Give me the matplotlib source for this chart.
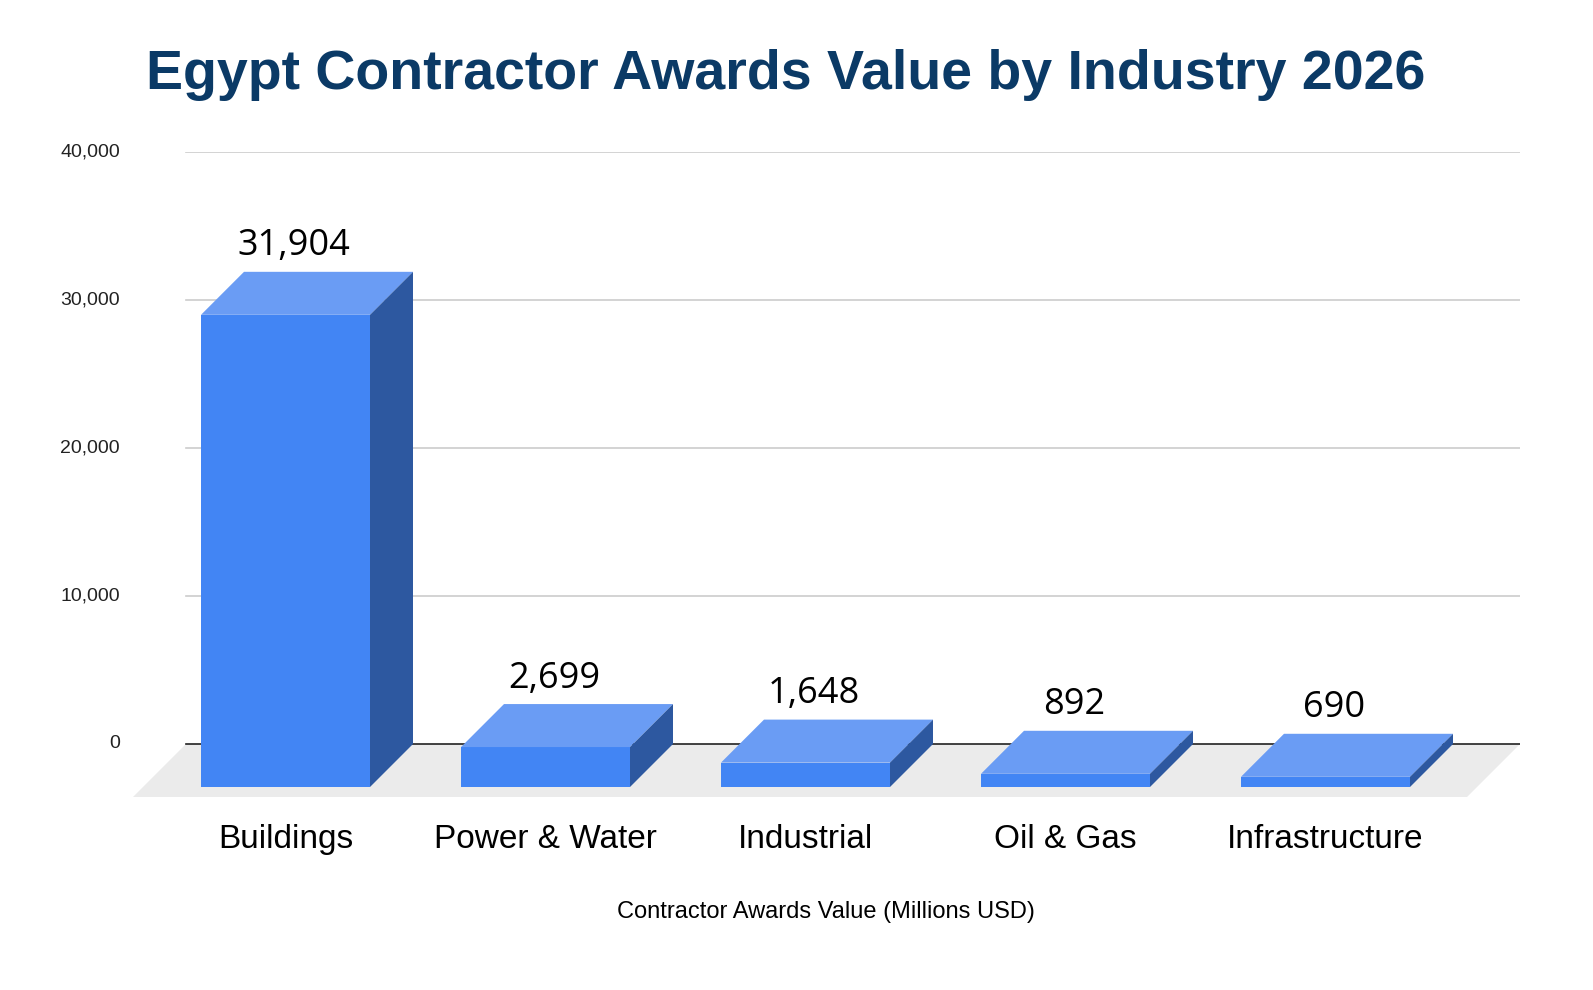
import matplotlib
matplotlib.use("Agg")
import matplotlib.pyplot as plt
from matplotlib.patches import Polygon, Rectangle

plt.rcParams['font.family'] = ['Liberation Sans', 'DejaVu Sans']

categories = ["Buildings", "Power & Water", "Industrial", "Oil & Gas", "Infrastructure"]
values = [31904, 2699, 1648, 892, 690]
yticks = [0, 10000, 20000, 30000, 40000]

W, H = 1593, 990
fig = plt.figure(figsize=(W/100, H/100), dpi=100)
ax = fig.add_axes([133/W, 1-797/H, (1520-133)/W, (797-152)/H])
px = 260.0
x0 = (133-201)/px
x1 = (1520-201)/px
ymin = -53/0.0148
ax.set_xlim(x0, x1)
ax.set_ylim(ymin, 40000)
ax.axis("off")

bw = 169/px
dx = 43/px
dy = 43/0.0148
gl = (186-201)/px
fdx = 53/px
ax.add_patch(Polygon([(gl, 0), (x1, 0), (x1-fdx, ymin), (gl-fdx, ymin)],
                     closed=True, color="#ebebeb", lw=0, zorder=1))
for t in yticks[1:]:
    ax.plot([gl, x1], [t, t], color="#cccccc", lw=1.2, zorder=1)
    ax.text(120/px - 201/px, t, f"{t:,}", ha="right", va="center", fontsize=14,
            color="#222222", clip_on=False)
ax.text(120/px - 201/px, 0, "0", ha="right", va="center", fontsize=14, color="#222222")
ax.plot([gl, x1], [0, 0], color="#222222", lw=1.2, zorder=2)

for i, (c, v) in enumerate(zip(categories, values)):
    ax.add_patch(Rectangle((i, -dy), bw, v, color="#4285f4", lw=0, zorder=3))
    ax.add_patch(Polygon([(i, v-dy), (i+bw, v-dy), (i+bw+dx, v), (i+dx, v)],
                         closed=True, color="#6a9cf4", lw=0, zorder=3))
    ax.add_patch(Polygon([(i+bw, -dy), (i+bw+dx, 0), (i+bw+dx, v), (i+bw, v-dy)],
                         closed=True, color="#2d58a0", lw=0, zorder=3))
    ax.text(i+(bw+dx)/2 - 0.05, v+500, f"{v:,}", ha="center", va="bottom", fontsize=26,
            color="black", zorder=4, family=['Open Sans', 'DejaVu Sans'])
    ax.text(i+bw/2, -dy-2500, c, ha="center", va="top", fontsize=24,
            color="black", clip_on=False)

fig.text(786/W, 1-75/H, "Egypt Contractor Awards Value by Industry 2026", ha="center",
         va="center", fontsize=40, fontweight="bold", color="#0b3a66")
fig.text(826/W, 1-912/H, "Contractor Awards Value (Millions USD)", ha="center",
         va="center", fontsize=17, color="black")
fig.savefig("out.png", dpi=100, facecolor="white")
